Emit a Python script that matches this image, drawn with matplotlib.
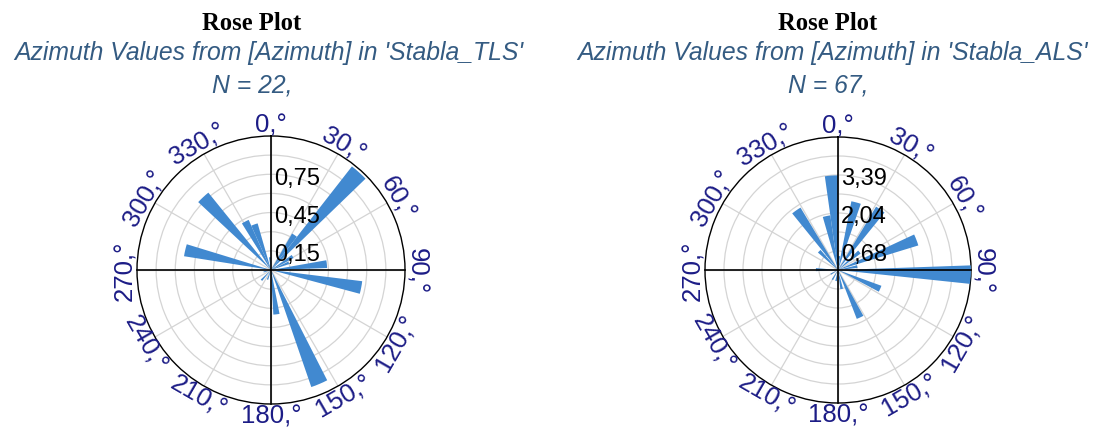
import numpy as np
import matplotlib.pyplot as plt
from matplotlib.transforms import Bbox, TransformedBbox

W, H = 1105, 435

# compass azimuth (deg, clockwise from north) and rose length per petal
tls_az = [34, 42, 58, 68, 84, 101, 157, 173, 200, 223, 255, 283, 317, 332, 340, 355]
tls_len = [0.33, 1.03, 0.20, 0.15, 0.44, 0.72, 0.97, 0.35, 0.08, 0.11, 0.06, 0.69, 0.78, 0.43, 0.38, 0.10]

als_az = [5, 15, 35, 50, 69, 80, 92, 114, 155, 169, 190, 210, 240, 271, 315, 325, 348, 356]
als_len = [0.50, 2.50, 2.64, 1.00, 3.00, 0.70, 4.75, 1.65, 1.87, 0.69, 0.40, 0.40, 0.30, 0.79, 0.95, 2.60, 1.97, 3.38]

tls_rings = 0.15
als_rings = 0.6786
tls_ticks = ["0,15", "0,45", "0,75"]
als_ticks = ["0,68", "2,04", "3,39"]
compass = [0, 30, 60, 90, 120, 150, 180, 210, 240, 270, 300, 330]

BAR = "#4189d0"
NAVY = "#1c1c86"
SUB = "#345b82"


def px_ax(cx, cy, r):
    return [(cx - r) / W, (H - cy - r) / H, 2 * r / W, 2 * r / H]


def rose(ax, az, lengths, step, ticks):
    rmax = 7 * step
    ax.set_theta_zero_location("N")
    ax.set_theta_direction(-1)
    ax.set_ylim(0, rmax)
    ax.set_rticks([step * k for k in range(1, 7)])
    ax.set_xticks(np.radians(np.arange(0, 360, 30)))
    ax.set_xticklabels([])
    ax.set_yticklabels([])
    ax.grid(True, color="#d4d4d4", lw=0.9)
    ax.spines["polar"].set_color("black")
    ax.spines["polar"].set_linewidth(1.0)

    ax.bar(np.radians(az), lengths, width=np.radians(8), bottom=0,
           color=BAR, edgecolor="none", zorder=3)

    # cross through the centre
    for a in (0, 90, 180, 270):
        ax.plot([np.radians(a)] * 2, [0, rmax], color="black", lw=1.2,
                zorder=4, clip_on=False)

    for k, lab in zip((1, 3, 5), ticks):
        ax.annotate(lab, (0, k * step), xytext=(2, -2.5), textcoords="offset points",
                    ha="left", va="center", fontsize=17,
                    family="Liberation Sans", color="black", zorder=5)

    for d in compass:
        rot = -d if (d <= 90 or d >= 270) else 180 - d
        ax.text(np.radians(d), rmax * 1.085, f"{d},°", rotation=rot,
                rotation_mode="anchor", ha="center", va="center",
                fontsize=18.5, family="Liberation Sans", color=NAVY)


fig = plt.figure(figsize=(W / 100, H / 100), dpi=100)

ax1 = fig.add_axes(px_ax(271, 271, 134), projection="polar")
rose(ax1, tls_az, tls_len, tls_rings, tls_ticks)
ax2 = fig.add_axes(px_ax(838, 271, 133), projection="polar")
rose(ax2, als_az, als_len, als_rings, als_ticks)

for cx, name, n in ((252, "Stabla_TLS", 22), (828, "Stabla_ALS", 67)):
    fig.text(cx / W, 1 - 30 / H, "Rose Plot", ha="center", va="baseline",
             fontsize=17.7, weight="bold", family="Liberation Serif")
    fig.text(cx / W, 1 - 92 / H, f"N = {n},", ha="center", va="baseline",
             fontsize=17.8, style="italic", family="Liberation Sans", color=SUB)

sub_l = fig.text(14 / W, 1 - 60 / H, "Azimuth Values from [Azimuth] in 'Stabla_TLS'",
                 ha="left", va="baseline", fontsize=17.8, style="italic",
                 family="Liberation Sans", color=SUB)
sub_l.set_clip_box(TransformedBbox(Bbox([[0, 0], [527 / W, 1]]), fig.transFigure))
sub_l.set_clip_on(True)
fig.text(832 / W, 1 - 60 / H, "Azimuth Values from [Azimuth] in 'Stabla_ALS'",
         ha="center", va="baseline", fontsize=17.8, style="italic",
         family="Liberation Sans", color=SUB)

fig.savefig("out.png", dpi=100)
